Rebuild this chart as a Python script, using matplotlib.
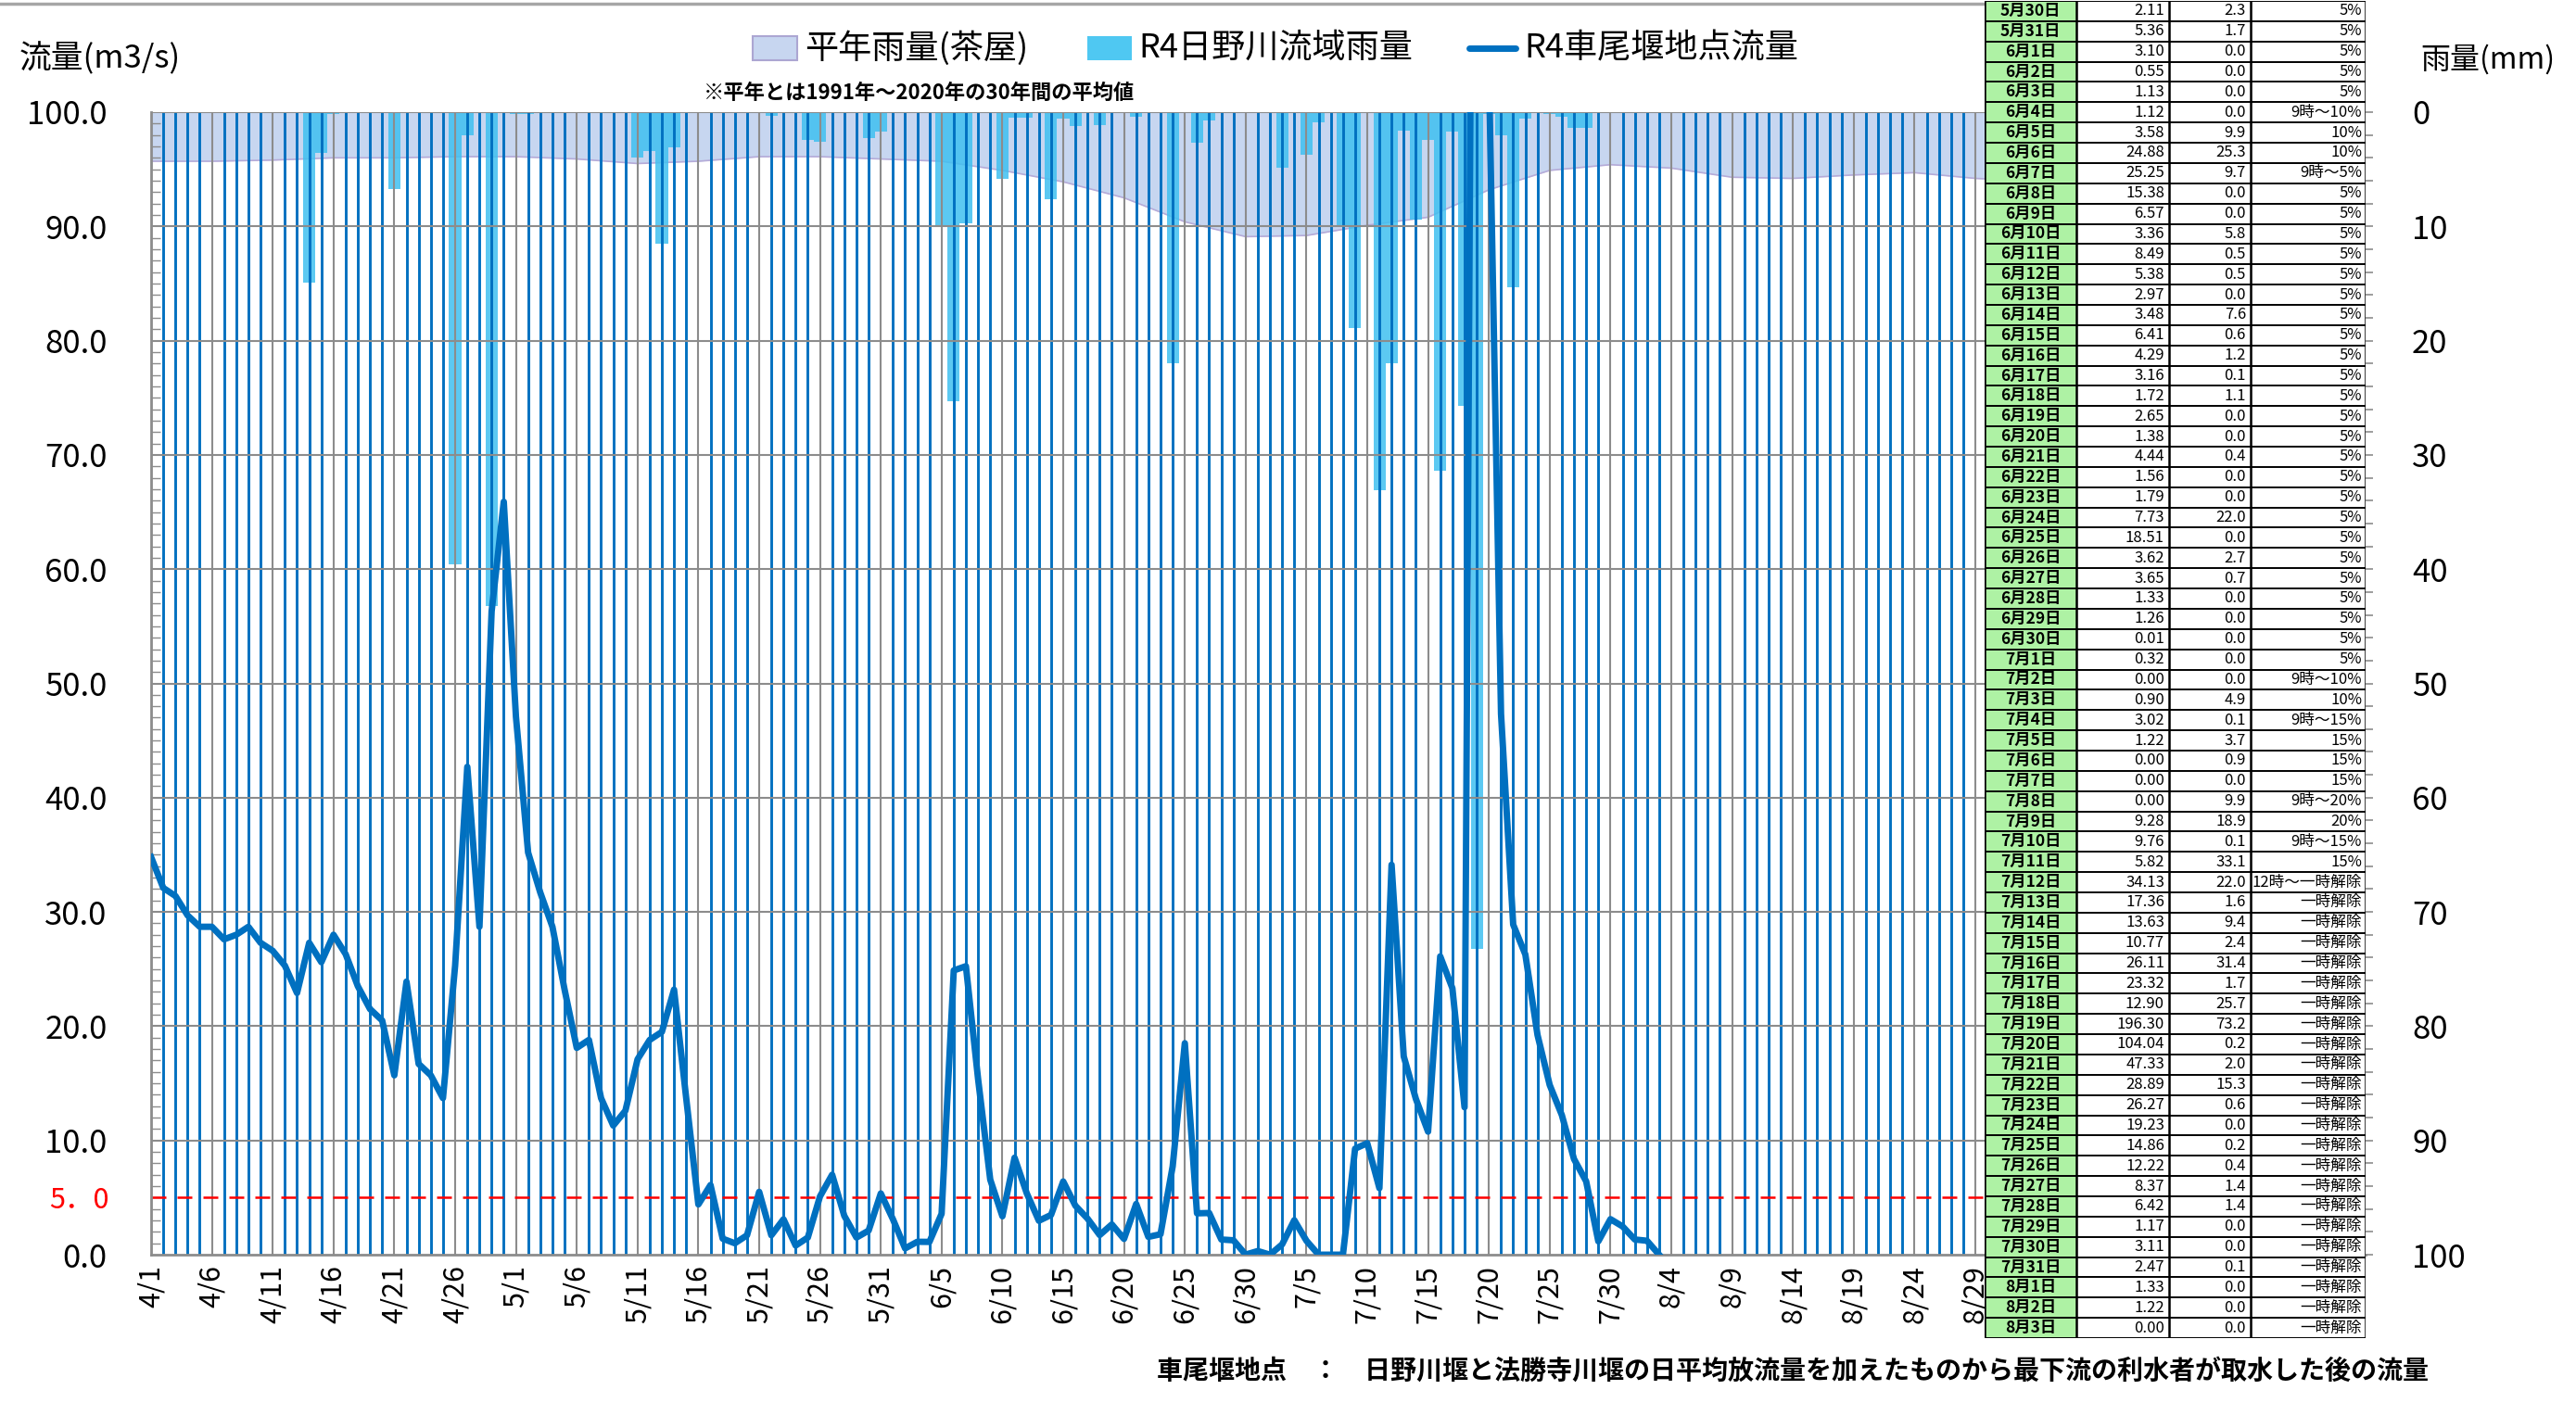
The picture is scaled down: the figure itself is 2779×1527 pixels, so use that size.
import numpy as np
import pandas as pd
import matplotlib
matplotlib.use('Agg')
import matplotlib.pyplot as plt
from matplotlib.patches import Rectangle
from matplotlib.lines import Line2D
from matplotlib.ticker import MultipleLocator, FormatStrFormatter

plt.rcParams['font.family'] = ['Noto Sans CJK JP', 'DejaVu Sans']

# ---- data ----
# flow (m3/s) 4/1 .. 5/29
flow_early = [34.8, 32.1, 31.4, 29.7, 28.7, 28.7, 27.6, 28.0, 28.7, 27.3,
              26.6, 25.3, 22.9, 27.3, 25.6, 28.0, 26.3, 23.5, 21.5, 20.5,
              15.7, 23.9, 16.7, 15.7, 13.7, 25.3, 42.7, 28.7, 56.3, 65.9,
              47.1, 35.2, 31.7, 28.7, 23.2, 18.1, 18.8, 13.7, 11.3, 12.6,
              17.1, 18.8, 19.5, 23.2, 13.7, 4.4, 6.1, 1.4, 1.0, 1.7,
              5.5, 1.7, 3.1, 0.8, 1.5, 5.1, 7.0, 3.4, 1.5]

# rainfall (mm) 4/1 .. 5/29
rain_early = [0.0] * 13 + [14.9, 3.6, 0.2, 0.0, 0.0, 0.0, 0.0, 6.7, 0.0, 0.0,
                           0.0, 0.0, 39.6, 2.0, 0.0, 43.2, 0.0] + \
             [0.2, 0.2] + [0.0] * 8 + [4.0, 3.4, 11.5, 3.1] + [0.0] * 7 + \
             [0.3, 0.0, 0.0, 2.4, 2.6, 0.0, 0.0, 0.0]

# table 5/30 .. 8/3
tbl_flow = [2.11, 5.36, 3.10, 0.55, 1.13, 1.12, 3.58, 24.88, 25.25, 15.38, 6.57,
            3.36, 8.49, 5.38, 2.97, 3.48, 6.41, 4.29, 3.16, 1.72, 2.65, 1.38,
            4.44, 1.56, 1.79, 7.73, 18.51, 3.62, 3.65, 1.33, 1.26, 0.01, 0.32,
            0.00, 0.90, 3.02, 1.22, 0.00, 0.00, 0.00, 9.28, 9.76, 5.82, 34.13,
            17.36, 13.63, 10.77, 26.11, 23.32, 12.90, 196.30, 104.04, 47.33, 28.89, 26.27,
            19.23, 14.86, 12.22, 8.37, 6.42, 1.17, 3.11, 2.47, 1.33, 1.22, 0.00]
tbl_rain = [2.3, 1.7, 0.0, 0.0, 0.0, 0.0, 9.9, 25.3, 9.7, 0.0, 0.0,
            5.8, 0.5, 0.5, 0.0, 7.6, 0.6, 1.2, 0.1, 1.1, 0.0, 0.0,
            0.4, 0.0, 0.0, 22.0, 0.0, 2.7, 0.7, 0.0, 0.0, 0.0, 0.0,
            0.0, 4.9, 0.1, 3.7, 0.9, 0.0, 9.9, 18.9, 0.1, 33.1, 22.0,
            1.6, 9.4, 2.4, 31.4, 1.7, 25.7, 73.2, 0.2, 2.0, 15.3, 0.6,
            0.0, 0.2, 0.4, 1.4, 1.4, 0.0, 0.0, 0.1, 0.0, 0.0, 0.0]
tbl_pct = ['5%', '5%', '5%', '5%', '5%', '9時～10%', '10%', '10%', '9時～5%', '5%', '5%'] + \
          ['5%'] * 22 + \
          ['9時～10%', '10%', '9時～15%', '15%', '15%', '15%', '9時～20%', '20%',
           '9時～15%', '15%', '12時～一時解除'] + ['一時解除'] * 22

# 平年雨量 (mm), read every 5 days
avg_dates = ['4/1', '4/6', '4/11', '4/16', '4/21', '4/26', '5/1', '5/6', '5/11', '5/16',
             '5/21', '5/26', '5/31', '6/5', '6/10', '6/15', '6/20', '6/25', '6/30', '7/5',
             '7/10', '7/15', '7/20', '7/25', '7/30', '8/4', '8/9', '8/14', '8/19', '8/24',
             '8/29', '8/31']
avg_rain = [4.3, 4.3, 4.2, 4.0, 4.0, 3.9, 3.9, 4.1, 4.5, 4.3,
            3.9, 3.9, 4.1, 4.3, 5.1, 6.1, 7.5, 9.6, 10.9, 10.8,
            9.9, 9.2, 6.8, 5.1, 4.6, 4.9, 5.7, 5.8, 5.5, 5.3,
            5.8, 5.9]

start = pd.Timestamp('2022-04-01')


def day_of(md):
    m, d = md.split('/')
    return (pd.Timestamp(2022, int(m), int(d)) - start).days


all_days = pd.date_range(start, '2022-10-02')
flow = flow_early + tbl_flow
rain = rain_early + tbl_rain
flow_x = np.arange(len(flow))
rain_x = np.arange(len(rain))
avg_x = [day_of(s) for s in avg_dates]
tbl_dates = [f'{d.month}月{d.day}日' for d in pd.date_range('2022-05-30', '2022-08-03')]
last_label = day_of('8/29')

# ---- layout in pixels ----
W, H = 2779, 1527


def fx(px):
    return px / W


def fy(py):
    return 1 - py / H


PL, PR, PT, PB = 163, 2552, 121, 1354
xmax = (PR - PL) / 13.12

fig = plt.figure(figsize=(W / 100, H / 100), dpi=100)
ax1 = fig.add_axes([fx(PL), fy(PB), fx(PR) - fx(PL), fy(PT) - fy(PB)])
ax2 = ax1.twinx()
ax1.set_zorder(ax2.get_zorder() + 1)
ax1.patch.set_visible(False)

blue = '#0070C0'
grey = '#8C8C8C'

# rainfall side (inverted)
ax2.fill_between(avg_x, 0, avg_rain, color='#C7D6F0', lw=0, zorder=1)
ax2.plot(avg_x, avg_rain, color='#B5ABD8', lw=1.2, zorder=1.5)
ax2.bar(rain_x, rain, width=1.0, color='#3FC0F0', alpha=0.85, lw=0, zorder=2)
ax2.set_ylim(100, 0)
ax2.set_xlim(0, xmax)
ax2.yaxis.set_major_locator(MultipleLocator(10))
ax2.yaxis.set_minor_locator(MultipleLocator(2))
ax2.tick_params(axis='y', which='major', labelsize=25, length=6, width=1.2,
                color=grey, pad=30)
ax2.tick_params(axis='y', which='minor', length=6, width=1.2, color=grey)
for s in ax2.spines.values():
    s.set_visible(False)

# flow side
days = np.arange(0, int(xmax) + 1)
ax1.vlines(days[days % 5 != 0], 0, 100, color=blue, lw=2.1, zorder=1)
ax1.vlines(days[days % 5 == 0], 0, 100, color=grey, lw=1.5, zorder=1.2)
ax1.hlines(np.arange(10, 101, 10), 0, xmax, color=grey, lw=1.5, zorder=1.5)
ax1.axhline(5.0, color='red', lw=1.8, dashes=(6.4, 4.8), zorder=2.5)
ax1.plot(flow_x, flow, color=blue, lw=5, zorder=3)

ax1.set_xlim(0, xmax)
ax1.set_ylim(0, 100)
ax1.yaxis.set_major_locator(MultipleLocator(10))
ax1.yaxis.set_major_formatter(FormatStrFormatter('%.1f'))
ax1.yaxis.set_minor_locator(MultipleLocator(1))
ax1.tick_params(axis='y', which='major', labelsize=25, length=0, pad=34)
ax1.tick_params(axis='y', which='minor', direction='in', length=7, width=1, color=grey)
ticks = days[(days % 5 == 0) & (days <= last_label)]
ax1.set_xticks(ticks)
ax1.set_xticklabels([f'{all_days[i].month}/{all_days[i].day}' for i in ticks],
                    rotation=90, fontsize=22)
ax1.tick_params(axis='x', length=0, pad=8)
for k, s in ax1.spines.items():
    if k in ('left', 'bottom'):
        s.set_color(grey)
        s.set_linewidth(2)
    else:
        s.set_visible(False)

# ---- texts ----
fig.text(fx(21), fy(64), '流量(m3/s)', fontsize=25, va='center', ha='left')
fig.text(fx(2611), fy(64), '雨量(mm)', fontsize=23, va='center', ha='left')
fig.text(fx(992), fy(100), '※平年とは1991年～2020年の30年間の平均値',
         fontsize=16, weight='bold', ha='center', va='center')
fig.text(fx(53), fy(1296), '5．0', color='red', fontsize=22, ha='left', va='center')
fig.text(fx(2620), fy(1480),
         '車尾堰地点　：　日野川堰と法勝寺川堰の日平均放流量を加えたものから最下流の利水者が取水した後の流量',
         fontsize=20.2, weight='bold', ha='right', va='center')
fig.add_artist(Line2D([0, fx(2141)], [fy(4), fy(4)], color='#A6A6A6', lw=2.5))

# legend
fig.add_artist(Rectangle((fx(812), fy(65)), fx(48), 26 / H, transform=fig.transFigure,
                         facecolor='#C7D6F0', edgecolor='#ACA6D2', lw=1.5))
fig.text(fx(868), fy(52), '平年雨量(茶屋)', fontsize=26, va='center', ha='left')
fig.add_artist(Rectangle((fx(1173), fy(65)), fx(48), 26 / H, transform=fig.transFigure,
                         facecolor='#4FC8F2', edgecolor='none'))
fig.text(fx(1228), fy(52), 'R4日野川流域雨量', fontsize=26, va='center', ha='left')
fig.add_artist(Line2D([fx(1585), fx(1635)], [fy(52), fy(52)], color=blue, lw=5,
                      solid_capstyle='round'))
fig.text(fx(1644), fy(52), 'R4車尾堰地点流量', fontsize=26, va='center', ha='left')

# ---- table ----
TL, TR, TT, TB = 2141, 2552, 1, 1444
axt = fig.add_axes([fx(TL), fy(TB), fx(TR) - fx(TL), fy(TT) - fy(TB)])
axt.set_zorder(10)
axt.set_facecolor('white')
axt.set_xlim(TL, TR)
axt.set_ylim(TB, TT)
axt.axis('off')
axt.add_patch(Rectangle((TL, TT), TR - TL, TB - TT, facecolor='white', lw=0, zorder=0))
n = len(tbl_dates)
rh = (TB - TT) / n
cols = [TL, 2240, 2340, 2428, TR]
for i in range(n):
    y0 = TT + i * rh
    yc = y0 + rh / 2
    axt.add_patch(Rectangle((TL, y0), cols[1] - TL, rh, facecolor='#AEF2A4', lw=0, zorder=1))
    axt.text((cols[0] + cols[1]) / 2, yc, tbl_dates[i], fontsize=12.5, weight='bold',
             ha='center', va='center', zorder=3)
    axt.text(cols[2] - 5, yc, f'{tbl_flow[i]:.2f}', fontsize=12, ha='right', va='center', zorder=3)
    axt.text(cols[3] - 5, yc, f'{tbl_rain[i]:.1f}', fontsize=12, ha='right', va='center', zorder=3)
    axt.text(cols[4] - 4, yc, tbl_pct[i], fontsize=12, ha='right', va='center', zorder=3)
axt.hlines(TT + np.arange(n + 1) * rh, TL, TR, color='black', lw=1.4, zorder=2)
axt.vlines(cols, TT, TB, color='black', lw=1.8, zorder=2)

fig.savefig('out.png', dpi=100, facecolor='white')
